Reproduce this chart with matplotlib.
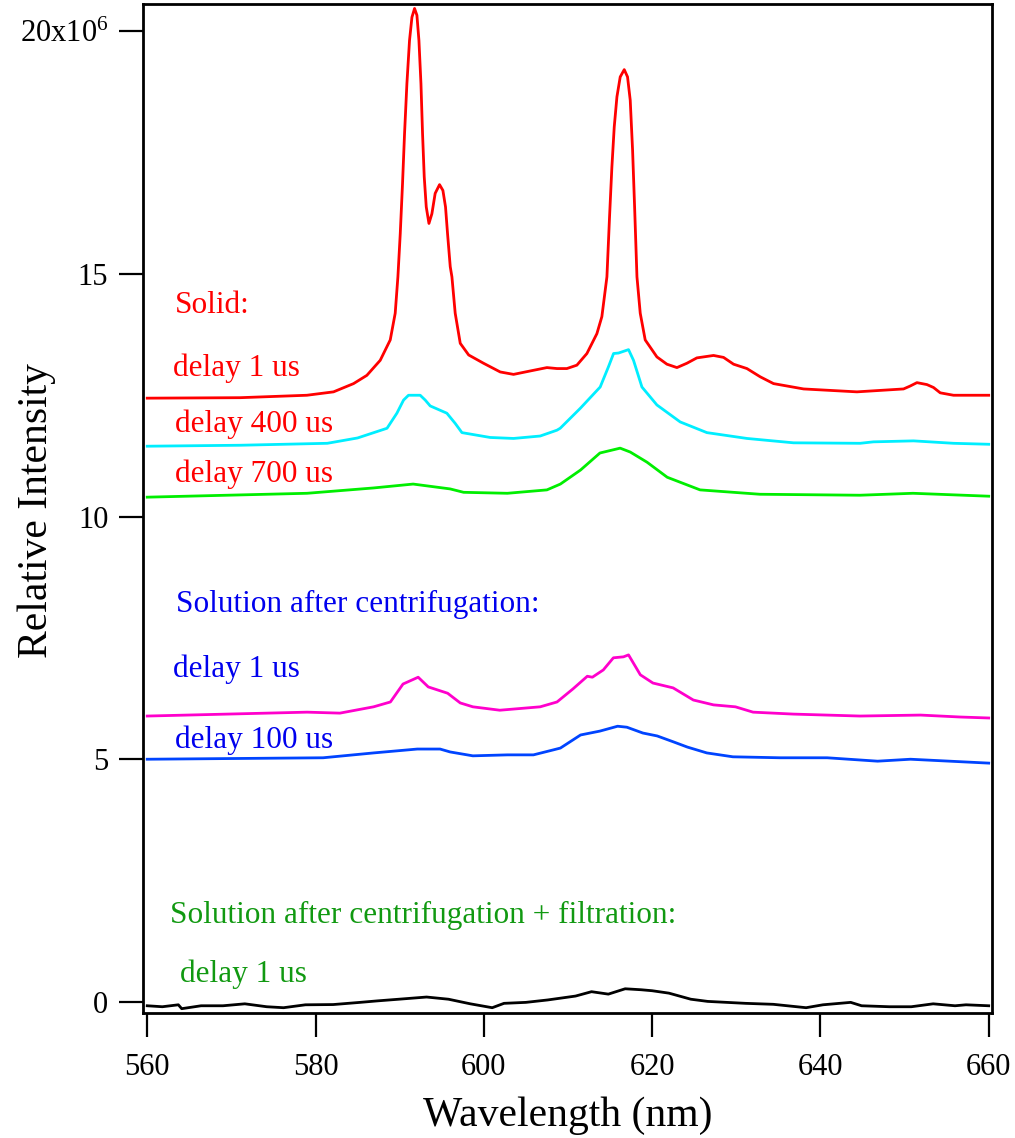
import matplotlib
matplotlib.use("Agg")
import matplotlib.pyplot as plt
from matplotlib.ticker import FixedLocator, FixedFormatter

plt.rcParams["font.family"] = ["Liberation Serif", "DejaVu Serif"]
plt.rcParams["mathtext.default"] = "regular"

# Solid, delay 1 us (red)
red_x = [560, 571.05, 578.98, 582.14, 584.52, 586.1, 587.69, 588.88, 589.47,
         589.79, 590.07, 590.34, 590.58, 590.86, 591.17, 591.46, 591.77, 592.05,
         592.29, 592.53, 592.72, 592.92, 593.16, 593.48, 593.83, 594.22, 594.74,
         595.14, 595.45, 595.69, 596.01, 596.21, 596.6, 597.2, 598.2, 599.96,
         601.95, 603.53, 605.5, 607.5, 608.7, 609.87, 611.06, 612.25, 613.44,
         614.03, 614.63, 614.94, 615.22, 615.5, 615.82, 616.21, 616.69,
         617.08, 617.4, 617.68, 617.92, 618.2, 618.59, 619.18, 620.57, 621.76,
         622.95, 624.14, 625.32, 627.3, 628.49, 629.68, 631.27, 632.85, 634.43,
         638.0, 644.34, 649.88, 650.67, 651.47, 652.66, 653.44, 654.24, 655.82,
         660]
red_y = [12.44, 12.45, 12.50, 12.57, 12.74, 12.91, 13.22, 13.64, 14.19,
         14.94, 15.83, 16.86, 17.89, 18.92, 19.81, 20.29, 20.47, 20.33,
         19.81, 18.92, 17.89, 17.0, 16.38, 16.04, 16.24, 16.66, 16.84,
         16.72, 16.38, 15.83, 15.15, 14.94, 14.19, 13.57, 13.33, 13.16,
         12.98, 12.93, 13.00, 13.07, 13.05, 13.05, 13.12, 13.36, 13.77,
         14.12, 14.94, 16.17, 17.2, 18.03, 18.65, 19.06, 19.21,
         19.06, 18.58, 17.55, 16.38, 14.94, 14.19, 13.64, 13.29, 13.14,
         13.07, 13.16, 13.27, 13.32, 13.28, 13.14, 13.05, 12.88, 12.74,
         12.63, 12.57, 12.63, 12.69, 12.76, 12.72, 12.66, 12.55, 12.50,
         12.50]

# Solid, delay 400 us (cyan)
cyan_x = [560, 571.1, 581.4, 585.0, 588.5, 589.67, 590.46, 591.05, 592.44,
          593.04, 593.63, 595.61, 596.6, 597.4, 600.76, 603.53, 606.7, 608.69,
          609.08, 611.46, 613.83, 614.82, 615.42, 616.01, 617.2, 617.79, 618.79,
          620.57, 623.34, 626.51, 631.27, 636.8, 644.73, 646.3, 651.07, 655.82,
          660]
cyan_y = [11.45, 11.47, 11.51, 11.62, 11.82, 12.13, 12.40, 12.50, 12.50,
          12.40, 12.28, 12.13, 11.92, 11.73, 11.63, 11.61, 11.66, 11.78,
          11.82, 12.23, 12.67, 13.09, 13.36, 13.37, 13.44, 13.22, 12.67,
          12.30, 11.95, 11.73, 11.61, 11.52, 11.51, 11.54, 11.56, 11.51,
          11.49]

# Solid, delay 700 us (green)
green_x = [560, 579.0, 586.9, 591.6, 596.0, 597.6, 602.8, 607.5, 609.1, 611.5,
           613.8, 616.2, 617.4, 619.4, 621.8, 625.7, 632.8, 644.7, 651.0, 660]
green_y = [10.40, 10.48, 10.59, 10.67, 10.57, 10.50, 10.48, 10.55, 10.67, 10.96,
           11.31, 11.41, 11.33, 11.12, 10.81, 10.55, 10.46, 10.44, 10.48, 10.42]

# Solution after centrifugation, delay 1 us (magenta)
mag_x = [560, 579.0, 582.9, 586.9, 588.9, 590.4, 592.2, 593.4, 595.7, 597.2,
         598.7, 601.9, 606.7, 608.7, 610.6, 612.3, 612.9, 614.2, 615.4, 616.6,
         617.2, 618.6, 620.1, 622.5, 624.9, 627.3, 629.9, 632.0, 636.8, 644.7,
         651.9, 656.6, 660]
mag_y = [5.89, 5.97, 5.95, 6.08, 6.18, 6.55, 6.69, 6.49, 6.36, 6.16,
         6.08, 6.01, 6.08, 6.18, 6.45, 6.71, 6.69, 6.84, 7.09, 7.11,
         7.15, 6.74, 6.57, 6.47, 6.22, 6.12, 6.08, 5.97, 5.93, 5.89,
         5.91, 5.87, 5.85]

# Solution after centrifugation, delay 100 us (blue)
blue_x = [560, 580.9, 586.9, 592.1, 594.8, 596.0, 598.7, 602.8, 605.9, 608.2,
          609.1, 611.5, 613.8, 615.9, 617.0, 618.9, 620.6, 622.5, 624.2, 626.5,
          629.6, 635.2, 640.8, 646.8, 650.7, 660]
blue_y = [5.00, 5.03, 5.13, 5.21, 5.21, 5.15, 5.07, 5.09, 5.09, 5.19,
          5.23, 5.50, 5.58, 5.68, 5.66, 5.54, 5.48, 5.36, 5.25, 5.13,
          5.05, 5.03, 5.03, 4.96, 5.00, 4.92]

# Solution after centrifugation + filtration, delay 1 us (black)
black_x = [560, 561.8, 563.7, 564.1, 566.4, 569.0, 571.6, 574.2, 576.2, 578.8,
           582.1, 585.3, 587.3, 589.9, 593.2, 595.8, 598.4, 601.0, 602.4, 605.0,
           607.6, 610.9, 612.8, 614.8, 616.8, 618.7, 620.0, 622.0, 624.6, 626.6,
           631.1, 634.4, 638.3, 640.3, 643.6, 644.9, 648.2, 650.8, 653.4, 656.0,
           657.3, 660]
black_y = [-0.08, -0.10, -0.06, -0.14, -0.08, -0.08, -0.04, -0.10, -0.12, -0.06,
           -0.055, -0.01, 0.02, 0.055, 0.10, 0.055, -0.04, -0.12, -0.03, -0.01,
           0.04, 0.12, 0.21, 0.16, 0.27, 0.25, 0.23, 0.18, 0.055, 0.01,
           -0.03, -0.05, -0.12, -0.06, -0.01, -0.08, -0.10, -0.10, -0.04, -0.08,
           -0.06, -0.08]

y_ticks = [0, 5, 10, 15, 20]
y_tick_labels = ["0", "5", "10", "15", "20x10$^{6}$"]
x_ticks = [560, 580, 600, 620, 640, 660]

fig = plt.figure(figsize=(10.15, 11.38), dpi=100)
ax = fig.add_axes([0.1409, 0.1098, 0.8365, 0.8866])

lw = 2.0
ax.plot(red_x, red_y, color="#ff0000", lw=lw)
ax.plot(cyan_x, cyan_y, color="#00eeff", lw=lw)
ax.plot(green_x, green_y, color="#00ee00", lw=lw)
ax.plot(mag_x, mag_y, color="#ff00cc", lw=lw)
ax.plot(blue_x, blue_y, color="#0044ff", lw=lw)
ax.plot(black_x, black_y, color="black", lw=lw)

# Annotations
fs = 22.5
ax.text(563.3, 14.19, "Solid:", color="#ff0000", fontsize=fs)
ax.text(563.1, 12.89, "delay 1 us", color="#ff0000", fontsize=fs)
ax.text(563.3, 11.74, "delay 400 us", color="#ff0000", fontsize=fs)
ax.text(563.3, 10.71, "delay 700 us", color="#ff0000", fontsize=fs)
ax.text(563.4, 8.03, "Solution after centrifugation:", color="#0000ee", fontsize=fs)
ax.text(563.1, 6.69, "delay 1 us", color="#0000ee", fontsize=fs)
ax.text(563.3, 5.23, "delay 100 us", color="#0000ee", fontsize=fs)
ax.text(562.7, 1.63, "Solution after centrifugation + filtration:",
        color="#119911", fontsize=fs)
ax.text(563.9, 0.41, "delay 1 us", color="#119911", fontsize=fs)

ax.set_xlim(559.5, 660.4)
ax.set_ylim(-0.23, 20.56)

ax.yaxis.set_major_locator(FixedLocator(y_ticks))
ax.yaxis.set_major_formatter(FixedFormatter(y_tick_labels))
ax.xaxis.set_major_locator(FixedLocator(x_ticks))

ax.tick_params(axis="both", direction="out", length=17, width=1.6,
               labelsize=22, pad=8)
ax.tick_params(axis="x", pad=12)
for s in ax.spines.values():
    s.set_linewidth(2)

ax.set_xlabel("Wavelength (nm)", fontsize=30, labelpad=10)
ax.set_ylabel("Relative Intensity", fontsize=30)
ax.yaxis.set_label_coords(-0.103, 0.4985)

plt.savefig("out.png", dpi=100)
plt.close()
